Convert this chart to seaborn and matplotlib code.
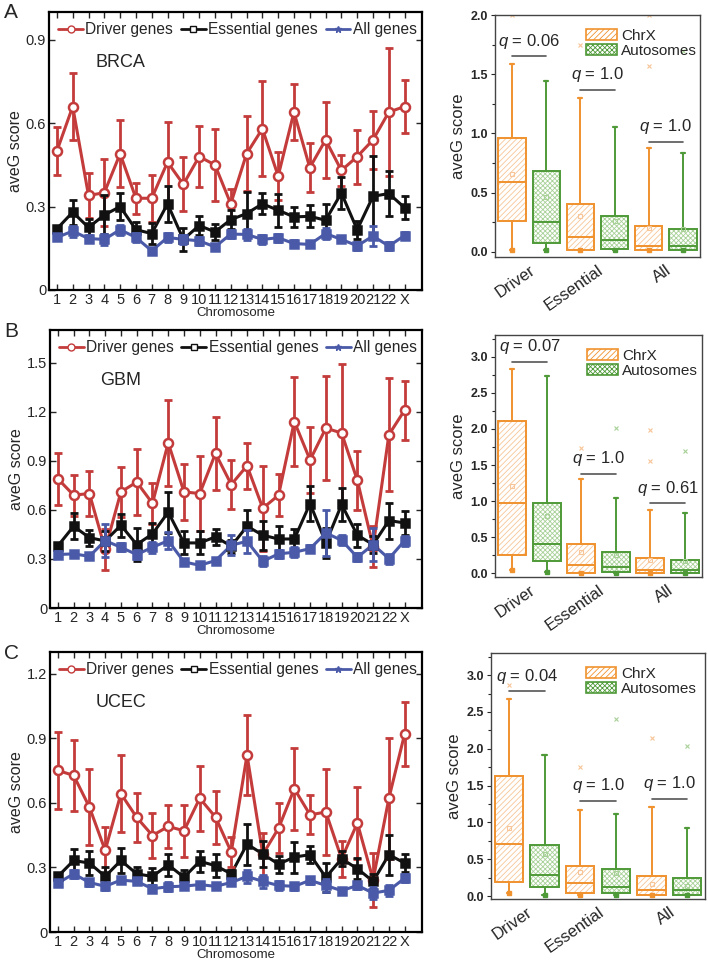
import numpy as np
import pandas as pd
import matplotlib
matplotlib.use("Agg")
import matplotlib.pyplot as plt
from matplotlib.lines import Line2D
from matplotlib.patches import Patch
from matplotlib.ticker import AutoMinorLocator
import seaborn as sns

# chromosome labels
chroms = [str(i) for i in range(1, 23)] + ["X"]

# BRCA
brca_driver = [0.50, 0.66, 0.34, 0.35, 0.49, 0.33, 0.33, 0.46, 0.38, 0.48, 0.45, 0.31,
               0.49, 0.58, 0.41, 0.64, 0.44, 0.54, 0.43, 0.48, 0.54, 0.64, 0.66]
brca_driver_err = [0.085, 0.12, 0.08, 0.12, 0.12, 0.055, 0.085, 0.145, 0.097, 0.11, 0.13, 0.055,
                   0.135, 0.17, 0.085, 0.10, 0.087, 0.138, 0.055, 0.097, 0.103, 0.23, 0.094]
brca_ess = [0.22, 0.28, 0.225, 0.27, 0.30, 0.217, 0.203, 0.31, 0.182, 0.232, 0.209, 0.253,
            0.275, 0.31, 0.287, 0.263, 0.265, 0.251, 0.349, 0.217, 0.337, 0.347, 0.296]
brca_ess_err = [0.01, 0.045, 0.032, 0.07, 0.048, 0.028, 0.038, 0.065, 0.04, 0.033, 0.028, 0.033,
                0.077, 0.038, 0.06, 0.036, 0.04, 0.057, 0.057, 0.032, 0.145, 0.08, 0.041]
brca_all = [0.189, 0.212, 0.185, 0.182, 0.217, 0.189, 0.141, 0.189, 0.182, 0.177, 0.155, 0.201,
            0.20, 0.182, 0.188, 0.167, 0.164, 0.203, 0.182, 0.159, 0.194, 0.158, 0.196]
brca_all_err = [0.01, 0.02, 0.012, 0.02, 0.018, 0.015, 0.01, 0.015, 0.015, 0.015, 0.012, 0.015,
                0.02, 0.015, 0.015, 0.012, 0.01, 0.02, 0.01, 0.015, 0.035, 0.015, 0.012]

# GBM
gbm_driver = [0.79, 0.69, 0.70, 0.36, 0.71, 0.77, 0.64, 1.01, 0.71, 0.70, 0.945, 0.755,
              0.87, 0.61, 0.69, 1.14, 0.905, 1.10, 1.07, 0.78, 0.375, 1.06, 1.21]
gbm_driver_err = [0.16, 0.125, 0.135, 0.125, 0.155, 0.2, 0.125, 0.265, 0.17, 0.23, 0.225, 0.15,
                  0.14, 0.26, 0.13, 0.27, 0.2, 0.32, 0.42, 0.18, 0.125, 0.345, 0.18]
gbm_ess = [0.38, 0.50, 0.43, 0.41, 0.506, 0.388, 0.453, 0.586, 0.398, 0.398, 0.435, 0.378,
           0.50, 0.445, 0.422, 0.422, 0.639, 0.398, 0.633, 0.445, 0.388, 0.535, 0.52]
gbm_ess_err = [0.015, 0.08, 0.05, 0.06, 0.07, 0.1, 0.068, 0.125, 0.07, 0.07, 0.05, 0.04,
               0.1, 0.09, 0.077, 0.06, 0.11, 0.09, 0.1, 0.07, 0.05, 0.11, 0.075]
gbm_all = [0.327, 0.331, 0.316, 0.412, 0.371, 0.327, 0.371, 0.412, 0.282, 0.261, 0.29, 0.384,
           0.408, 0.286, 0.331, 0.341, 0.363, 0.459, 0.414, 0.31, 0.388, 0.302, 0.412]
gbm_all_err = [0.02, 0.015, 0.015, 0.1, 0.025, 0.03, 0.035, 0.05, 0.02, 0.015, 0.015, 0.06,
               0.07, 0.03, 0.025, 0.03, 0.02, 0.14, 0.03, 0.025, 0.1, 0.03, 0.03]

# UCEC
ucec_driver = [0.75, 0.727, 0.58, 0.379, 0.642, 0.532, 0.448, 0.49, 0.47, 0.621, 0.533, 0.371,
               0.822, 0.36, 0.482, 0.665, 0.544, 0.557, 0.34, 0.506, 0.243, 0.621, 0.92]
ucec_driver_err = [0.18, 0.165, 0.177, 0.11, 0.18, 0.113, 0.103, 0.1, 0.12, 0.15, 0.123, 0.068,
                   0.185, 0.1, 0.115, 0.19, 0.09, 0.2, 0.083, 0.165, 0.125, 0.28, 0.15]
ucec_ess = [0.258, 0.332, 0.32, 0.258, 0.332, 0.27, 0.258, 0.312, 0.254, 0.328, 0.308, 0.27,
            0.408, 0.362, 0.315, 0.348, 0.359, 0.254, 0.34, 0.294, 0.235, 0.359, 0.32]
ucec_ess_err = [0.012, 0.054, 0.054, 0.042, 0.058, 0.03, 0.04, 0.05, 0.035, 0.05, 0.054, 0.02,
                0.095, 0.062, 0.04, 0.072, 0.04, 0.066, 0.035, 0.05, 0.035, 0.093, 0.04]
ucec_all = [0.227, 0.27, 0.23, 0.212, 0.241, 0.235, 0.201, 0.21, 0.213, 0.22, 0.212, 0.23,
            0.258, 0.235, 0.216, 0.212, 0.24, 0.216, 0.192, 0.216, 0.181, 0.193, 0.25]
ucec_all_err = [0.015, 0.02, 0.015, 0.015, 0.015, 0.012, 0.015, 0.02, 0.015, 0.012, 0.01, 0.012,
                0.03, 0.03, 0.02, 0.015, 0.015, 0.03, 0.01, 0.015, 0.03, 0.025, 0.02]

# box summaries, order: Driver ChrX, Driver Auto, Essential ChrX, Essential Auto, All ChrX, All Auto
groups = ["Driver", "Essential", "All"]
brca_q1 = [0.26, 0.07, 0.01, 0.02, 0.01, 0.01]
brca_med = [0.59, 0.25, 0.12, 0.10, 0.05, 0.05]
brca_q3 = [0.96, 0.68, 0.40, 0.30, 0.22, 0.19]
brca_lo = [0.01, 0.01, 0.01, 0.01, 0.01, 0.01]
brca_hi = [1.59, 1.44, 1.30, 1.05, 0.88, 0.83]
brca_mean = [0.66, 0.46, 0.30, 0.26, 0.20, 0.19]
brca_out = [[2.0], [], [1.75], [], [1.57, 2.0], [1.70]]
brca_q = ["0.06", "1.0", "1.0"]
brca_qy = [1.65, 1.37, 0.93]

gbm_q1 = [0.25, 0.17, 0.01, 0.02, 0.01, 0.01]
gbm_med = [0.98, 0.41, 0.12, 0.09, 0.05, 0.05]
gbm_q3 = [2.11, 0.98, 0.40, 0.30, 0.21, 0.19]
gbm_lo = [0.04, 0.02, 0.01, 0.01, 0.01, 0.01]
gbm_hi = [2.83, 2.73, 1.30, 1.05, 0.88, 0.83]
gbm_mean = [1.21, 0.80, 0.29, 0.26, 0.19, 0.17]
gbm_out = [[], [], [1.74], [2.01], [1.56, 1.98], [1.70]]
gbm_q = ["0.07", "1.0", "0.61"]
gbm_qy = [2.93, 1.38, 0.97]

ucec_q1 = [0.195, 0.118, 0.045, 0.036, 0.014, 0.014]
ucec_med = [0.70, 0.285, 0.172, 0.127, 0.077, 0.081]
ucec_q3 = [1.634, 0.688, 0.412, 0.371, 0.267, 0.249]
ucec_lo = [0.036, 0.01, 0.01, 0.01, 0.01, 0.01]
ucec_hi = [2.67, 1.914, 1.167, 1.113, 1.213, 0.928]
ucec_mean = [0.93, 0.566, 0.32, 0.31, 0.16, 0.14]
ucec_out = [[2.86], [], [1.75], [2.40], [2.14], [2.04]]
ucec_q = ["0.04", "1.0", "1.0"]
ucec_qy = [2.78, 1.29, 1.32]

sns.set_theme(style="ticks")
plt.rcParams["font.family"] = ["Liberation Sans", "DejaVu Sans"]
plt.rcParams["mathtext.fontset"] = "custom"
plt.rcParams["mathtext.it"] = "Liberation Sans:italic"
plt.rcParams["hatch.linewidth"] = 0.6

RED, BLACK, BLUE = "#c43b3b", "#111111", "#4a5aa8"
ORANGE, ORANGE_L = "#f0922e", "#f7c597"
GREEN, GREEN_L = "#4f9a38", "#a8d198"

W, H = 708, 966
fig = plt.figure(figsize=(W / 100, H / 100), dpi=100)


def add_ax(l, t, r, b):
    return fig.add_axes([l / W, 1 - b / H, (r - l) / W, (b - t) / H])


def line_panel(ax, name, series, ymax, yticks):
    pos = np.arange(1, len(chroms) + 1)
    rows = []
    for label, vals, errs, col, mk in series:
        rows += [{"pos": p, "value": v, "series": label} for p, v in zip(pos, vals)]
    df = pd.DataFrame(rows)
    pal = {s[0]: s[3] for s in series}
    sns.lineplot(data=df, x="pos", y="value", hue="series", palette=pal, lw=2.2,
                 legend=False, ax=ax, sort=False)
    for label, vals, errs, col, mk in series:
        mfc = "white" if mk == "o" else col
        ax.errorbar(pos, vals, yerr=errs, fmt="none", ecolor=col, elinewidth=2,
                    capsize=3, capthick=2)
        ax.plot(pos, vals, ls="none", marker=mk, ms=6.5 if mk == "o" else 5.5,
                mfc=mfc, mec=col, mew=1.8)
    ax.set_xlim(0.5, 24.1)
    ax.set_ylim(0, ymax)
    ax.set_xticks(pos)
    ax.set_xticklabels(chroms, fontsize=10.5)
    ax.set_yticks(yticks)
    ax.set_yticklabels(["0"] + [f"{t:.1f}" for t in yticks[1:]], fontsize=10.5)
    ax.tick_params(direction="in", top=True, right=True, length=4, width=1, pad=2)
    for sp in ax.spines.values():
        sp.set_linewidth(1.6)
        sp.set_color("black")
    ax.set_xlabel("Chromosome", fontsize=9.5, labelpad=0)
    ax.set_ylabel("aveG score", fontsize=11.5, labelpad=2)
    ax.text(5.0, ymax * 0.82, name, fontsize=13, ha="center", va="center")
    handles = [Line2D([], [], color=RED, lw=2, marker="o", ms=5, mfc="white", mec=RED),
               Line2D([], [], color=BLACK, lw=2, marker="s", ms=4.5, mfc="white", mec=BLACK),
               Line2D([], [], color=BLUE, lw=2, marker="*", ms=5, mfc=BLUE, mec=BLUE)]
    ax.legend(handles, ["Driver genes", "Essential genes", "All genes"], ncol=3,
              loc="upper center", bbox_to_anchor=(0.505, 0.985), frameon=False,
              fontsize=11.2, handlelength=1.6, handletextpad=0.15, columnspacing=0.5,
              borderaxespad=0.2, borderpad=0.2)


def box_panel(ax, q1, med, q3, lo, hi, mean, out, qs, qy, ylim, yticks):
    pos = []
    for g in range(3):
        pos += [g + 1 - 0.25, g + 1 + 0.25]
    stats = []
    for i in range(6):
        stats.append({"q1": q1[i], "med": med[i], "q3": q3[i], "whislo": lo[i],
                      "whishi": hi[i], "mean": mean[i], "fliers": out[i]})
    for i in range(6):
        edge, light = (ORANGE, ORANGE_L) if i % 2 == 0 else (GREEN, GREEN_L)
        hatch = "//////" if i % 2 == 0 else "xxxxxxx"
        # hatched fill
        ax.bxp([stats[i]], positions=[pos[i]], widths=0.4, patch_artist=True,
               showcaps=False, showfliers=False, showmeans=False,
               boxprops=dict(facecolor="white", edgecolor=light, hatch=hatch, lw=0),
               whiskerprops=dict(lw=0), medianprops=dict(lw=0))
        # outlines
        ax.bxp([stats[i]], positions=[pos[i]], widths=0.4, patch_artist=True,
               showmeans=True, showfliers=True, capwidths=0.06,
               boxprops=dict(facecolor="none", edgecolor=edge, lw=1.4),
               whiskerprops=dict(color=edge, lw=1.4),
               capprops=dict(color=edge, lw=1.6),
               medianprops=dict(color=edge, lw=1.4),
               meanprops=dict(marker="s", ms=3, mfc="none", mec=light, mew=0.8),
               flierprops=dict(marker="x", ms=3, mec=light, mew=0.8))
        ax.plot([pos[i]], [lo[i]], marker="s", ms=2.5, color=edge, ls="none")
    for g in range(3):
        ax.plot([g + 1 - 0.25, g + 1 + 0.25], [qy[g], qy[g]], color="#555555", lw=1.2)
        ax.annotate(r"$q$ = " + qs[g], (g + 1, qy[g]), xytext=(0, 4),
                    textcoords="offset points", ha="center", va="bottom", fontsize=12)
    ax.set_xlim(0.5, 3.5)
    ax.set_ylim(*ylim)
    ax.set_xticks([1, 2, 3])
    ax.set_xticklabels(groups, rotation=35, ha="right", rotation_mode="anchor", fontsize=12)
    ax.set_yticks(yticks)
    ax.set_yticklabels([f"{t:.1f}" for t in yticks], fontsize=9, fontweight="bold")
    ax.yaxis.set_minor_locator(AutoMinorLocator(2))
    ax.tick_params(axis="y", which="both", direction="out", length=3, width=0.8, pad=2)
    ax.tick_params(axis="y", which="minor", length=2)
    ax.tick_params(axis="x", length=0, pad=4)
    for sp in ax.spines.values():
        sp.set_linewidth(1.0)
        sp.set_color("#444444")
    ax.set_ylabel("aveG score", fontsize=12, labelpad=3)
    handles = [Patch(facecolor="white", edgecolor=ORANGE, hatch="//////", lw=1.2),
               Patch(facecolor="white", edgecolor=GREEN, hatch="xxxxxxx", lw=1.2)]
    ax.legend(handles, ["ChrX", "Autosomes"], loc="upper left", bbox_to_anchor=(0.4, 0.98),
              frameon=False, fontsize=11, handlelength=2.0, handleheight=0.7,
              handletextpad=0.3, labelspacing=0.05, borderaxespad=0.2)


axA = add_ax(49, 12, 422, 290)
line_panel(axA, "BRCA", [("Driver genes", brca_driver, brca_driver_err, RED, "o"),
                         ("Essential genes", brca_ess, brca_ess_err, BLACK, "s"),
                         ("All genes", brca_all, brca_all_err, BLUE, "s")],
           1.0, [0, 0.3, 0.6, 0.9])
axB = add_ax(50, 330, 422, 608)
line_panel(axB, "GBM", [("Driver genes", gbm_driver, gbm_driver_err, RED, "o"),
                        ("Essential genes", gbm_ess, gbm_ess_err, BLACK, "s"),
                        ("All genes", gbm_all, gbm_all_err, BLUE, "s")],
           1.7, [0, 0.3, 0.6, 0.9, 1.2, 1.5])
axC = add_ax(50, 652, 422, 932)
line_panel(axC, "UCEC", [("Driver genes", ucec_driver, ucec_driver_err, RED, "o"),
                         ("Essential genes", ucec_ess, ucec_ess_err, BLACK, "s"),
                         ("All genes", ucec_all, ucec_all_err, BLUE, "s")],
           1.3, [0, 0.3, 0.6, 0.9, 1.2])

bA = add_ax(495, 15, 700, 257)
box_panel(bA, brca_q1, brca_med, brca_q3, brca_lo, brca_hi, brca_mean, brca_out,
          brca_q, brca_qy, (-0.045, 2.0), [0.0, 0.5, 1.0, 1.5, 2.0])
bB = add_ax(495, 335, 702, 577)
box_panel(bB, gbm_q1, gbm_med, gbm_q3, gbm_lo, gbm_hi, gbm_mean, gbm_out,
          gbm_q, gbm_qy, (-0.05, 3.3), [0.0, 0.5, 1.0, 1.5, 2.0, 2.5, 3.0])
bC = add_ax(491, 653, 705, 899)
box_panel(bC, ucec_q1, ucec_med, ucec_q3, ucec_lo, ucec_hi, ucec_mean, ucec_out,
          ucec_q, ucec_qy, (-0.04, 3.3), [0.0, 0.5, 1.0, 1.5, 2.0, 2.5, 3.0])

for letter, y in [("A", 3), ("B", 322), ("C", 644)]:
    fig.text(4 / W, 1 - y / H, letter, fontsize=15, va="top", ha="left")

fig.savefig("out.png", dpi=100)
